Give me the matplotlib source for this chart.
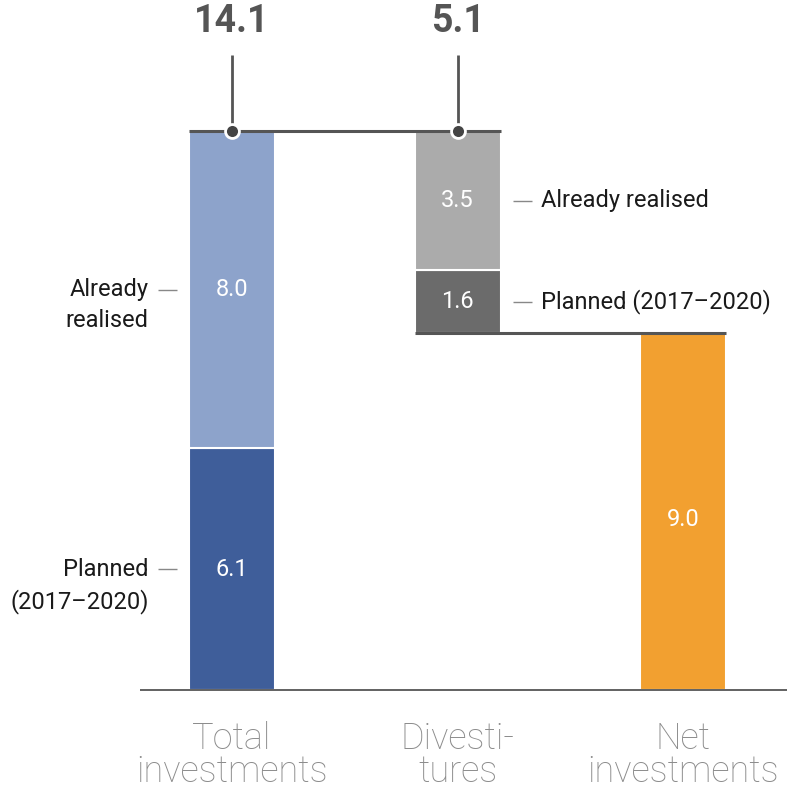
import matplotlib.pyplot as plt

plt.rcParams['font.family'] = ['Roboto', 'DejaVu Sans']

# data (EUR bn)
categories = ['Total\ninvestments', 'Divesti-\ntures', 'Net\ninvestments']
total_planned = 6.1
total_realised = 8.0
div_realised = 3.5
div_planned = 1.6
net_value = 9.0
total_value = total_planned + total_realised
div_value = div_realised + div_planned

C_BLUE_DARK = '#3f5e9a'
C_BLUE_LIGHT = '#8da3cb'
C_GREY_LIGHT = '#ababab'
C_GREY_DARK = '#6b6b6b'
C_ORANGE = '#f2a030'
C_LINE = '#555555'

fig = plt.figure(figsize=(7.87, 7.92), dpi=100)
ax = fig.add_axes([0, 0, 1, 1])
ax.set_xlim(-1.029, 2.461)
ax.set_ylim(-2.576, 17.42)
ax.axis('off')

w = 0.381
x = [0, 1, 2]

# total investments
ax.bar(x[0], total_planned, w, color=C_BLUE_DARK, edgecolor='white', linewidth=1.5)
ax.bar(x[0], total_realised, w, bottom=total_planned, color=C_BLUE_LIGHT,
       edgecolor='white', linewidth=1.5)
# divestitures (floating)
ax.bar(x[1], div_planned, w, bottom=net_value, color=C_GREY_DARK,
       edgecolor='white', linewidth=1.5)
ax.bar(x[1], div_realised, w, bottom=net_value + div_planned, color=C_GREY_LIGHT,
       edgecolor='white', linewidth=1.5)
# net investments
ax.bar(x[2], net_value, w, color=C_ORANGE, edgecolor='white', linewidth=1.5)

# connector lines
ax.hlines(total_value, x[0] - w / 2, x[1] + w / 2, color=C_LINE, lw=2.2, zorder=3)
ax.hlines(net_value, x[1] - w / 2, x[2] + w / 2, color=C_LINE, lw=2.2, zorder=3)
ax.hlines(0, -0.41, 2.47, color=C_LINE, lw=1.3, zorder=3)

# top callouts
for xi, lab in zip(x[:2], ['%.1f' % total_value, '%.1f' % div_value]):
    ax.vlines(xi, total_value, 16.03, color=C_LINE, lw=2, zorder=3)
    ax.plot(xi, total_value, 'o', ms=10, color='#444444', mec='white', mew=2, zorder=4)
    ax.text(xi, 16.87, lab, ha='center', va='center', fontsize=27,
            fontweight='bold', color=C_LINE)

# values inside bars
seg_labels = [
    (x[0], total_planned / 2, total_planned),
    (x[0], total_planned + total_realised / 2, total_realised),
    (x[1], net_value + div_planned / 2, div_planned),
    (x[1], net_value + div_planned + div_realised / 2, div_realised),
    (x[2], net_value / 2 - 0.2, net_value),
]
for xi, yi, v in seg_labels:
    ax.text(xi, yi, '%.1f' % v, ha='center', va='center', fontsize=17, color='white')

# side annotations
side_kw = dict(fontsize=17, fontweight='normal', color='#1a1a1a', va='center')
dash_kw = dict(color='#888888', lw=1)
# left side (total investments)
ax.hlines(total_planned + total_realised / 2, -0.33, -0.245, **dash_kw)
ax.text(-0.37, total_planned + total_realised / 2, 'Already', ha='right', **side_kw)
ax.text(-0.37, total_planned + total_realised / 2 - 0.76, 'realised', ha='right', **side_kw)
ax.hlines(total_planned / 2, -0.33, -0.245, **dash_kw)
ax.text(-0.37, total_planned / 2, 'Planned', ha='right', **side_kw)
ax.text(-0.37, total_planned / 2 - 0.81, '(2017\u20132020)', ha='right', **side_kw)
# right side (divestitures)
yr = net_value + div_planned + div_realised / 2
yp = net_value + div_planned / 2
ax.hlines([yr, yp], 1.245, 1.33, **dash_kw)
ax.text(1.37, yr, 'Already realised', ha='left', **side_kw)
ax.text(1.37, yp, 'Planned (2017\u20132020)', ha='left', **side_kw)

# category labels
for xi, cat in zip(x, categories):
    l1, l2 = cat.split('\n')
    ax.text(xi, -1.25, l1, ha='center', va='center', fontsize=26,
            fontweight='light', color='#8c8c8c')
    ax.text(xi, -2.08, l2, ha='center', va='center', fontsize=26,
            fontweight='light', color='#8c8c8c')

fig.savefig('out.png', dpi=100)
